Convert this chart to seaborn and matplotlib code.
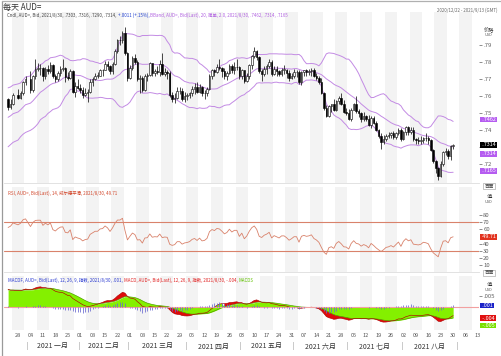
import numpy as np
import pandas as pd
import matplotlib
matplotlib.use("Agg")
import matplotlib.pyplot as plt
import seaborn as sns
from matplotlib.transforms import blended_transform_factory as btf
from matplotlib.lines import Line2D

sns.set_theme(style="white")
plt.rcParams['font.family'] = ['Noto Sans CJK SC', 'DejaVu Sans']
plt.rcParams['axes.unicode_minus'] = False

# ---------------- data (AUD= daily, prices in 1/10000 USD) ----------------
# closes before the visible window, only used to seed BBand / RSI / MACD
warmup_closes = [
    7165, 7165,
    7185, 7115, 7140, 7170, 7235,
    7215, 7165, 7160, 7080, 7085,
    7065, 7065, 7130, 7115, 7140,
    7125, 7135, 7075, 7030, 7030,
    7075, 7125, 7145, 7260, 7285,
    7265, 7290, 7260, 7255, 7285,
    7310, 7290, 7290, 7290, 7300,
    7285, 7355, 7370, 7365, 7385,
    7365, 7375, 7405, 7445, 7440,
    7420, 7430, 7430, 7525, 7535,
    7515, 7545, 7570, 7630, 7625,
    7580,
]
closes = [
    7535, 7555, 7605,
    7590, 7615, 7680, 7700,
    7635, 7715, 7760, 7765, 7765,
    7720, 7760, 7745, 7780, 7715,
    7700, 7735, 7760, 7765, 7710,
    7705, 7745, 7625, 7660, 7645,
    7635, 7605, 7620, 7625, 7680,
    7700, 7720, 7720, 7750, 7755,
    7790, 7775, 7745, 7790, 7865,
    7930, 7930, 7970, 7850, 7705,
    7765, 7825, 7800, 7700, 7705,
    7635, 7720, 7725, 7795, 7735,
    7745, 7740, 7790, 7730, 7740,
    7735, 7605, 7580, 7590, 7630,
    7630, 7585, 7600, 7605, 7615,
    7640, 7650, 7625, 7650, 7615,
    7620, 7640, 7720, 7750, 7740,
    7770, 7765, 7745, 7720, 7735,
    7775, 7750, 7770, 7770, 7715,
    7750, 7690, 7720, 7780, 7835,
    7865, 7830, 7745, 7730, 7760,
    7775, 7800, 7730, 7760, 7745,
    7730, 7755, 7755, 7735, 7705,
    7720, 7740, 7740, 7680, 7740,
    7750, 7740, 7745, 7755, 7720,
    7705, 7680, 7615, 7530, 7480,
    7540, 7550, 7520, 7570, 7590,
    7555, 7505, 7500, 7465, 7520,
    7550, 7510, 7500, 7465, 7480,
    7465, 7430, 7470, 7440, 7400,
    7365, 7330, 7345, 7365, 7370,
    7380, 7360, 7380, 7400, 7345,
    7390, 7415, 7390, 7400, 7345,
    7340, 7335, 7340, 7355, 7350,
    7340, 7280, 7215, 7175, 7130,
    7200, 7270, 7275, 7245, 7303,
    7314,
]
highs = [
    7590, 7580, 7620,
    7640, 7630, 7690, 7715,
    7745, 7725, 7820, 7795, 7790,
    7770, 7770, 7780, 7800, 7790,
    7730, 7745, 7775, 7820, 7770,
    7740, 7760, 7750, 7680, 7700,
    7670, 7655, 7645, 7640, 7700,
    7710, 7735, 7740, 7760, 7760,
    7805, 7805, 7785, 7800, 7875,
    7935, 7950, 7985, 8007, 7860,
    7785, 7835, 7845, 7810, 7725,
    7715, 7730, 7735, 7800, 7795,
    7760, 7775, 7810, 7850, 7765,
    7755, 7745, 7625, 7620, 7650,
    7650, 7645, 7625, 7620, 7625,
    7660, 7675, 7680, 7670, 7660,
    7635, 7655, 7730, 7760, 7760,
    7790, 7815, 7770, 7765, 7745,
    7790, 7790, 7800, 7815, 7775,
    7760, 7755, 7735, 7790, 7840,
    7890, 7870, 7835, 7760, 7775,
    7790, 7815, 7810, 7775, 7775,
    7755, 7765, 7785, 7760, 7750,
    7735, 7760, 7755, 7750, 7745,
    7755, 7760, 7760, 7765, 7765,
    7735, 7720, 7705, 7625, 7545,
    7545, 7555, 7580, 7575, 7600,
    7615, 7575, 7530, 7525, 7530,
    7560, 7600, 7525, 7505, 7505,
    7490, 7490, 7480, 7480, 7450,
    7405, 7380, 7370, 7375, 7390,
    7390, 7395, 7390, 7410, 7410,
    7395, 7425, 7425, 7420, 7420,
    7355, 7360, 7365, 7360, 7380,
    7365, 7345, 7290, 7225, 7180,
    7215, 7275, 7295, 7290, 7310,
    7316,
]
lows = [
    7520, 7525, 7545,
    7580, 7580, 7605, 7665,
    7620, 7625, 7700, 7745, 7725,
    7690, 7700, 7730, 7735, 7705,
    7680, 7690, 7715, 7745, 7685,
    7695, 7700, 7620, 7595, 7640,
    7615, 7590, 7600, 7565, 7615,
    7660, 7695, 7705, 7715, 7720,
    7750, 7755, 7730, 7730, 7785,
    7855, 7900, 7910, 7840, 7690,
    7700, 7750, 7790, 7690, 7620,
    7625, 7630, 7690, 7720, 7715,
    7715, 7730, 7720, 7725, 7720,
    7700, 7595, 7565, 7560, 7585,
    7610, 7570, 7565, 7575, 7590,
    7600, 7610, 7615, 7620, 7600,
    7585, 7600, 7635, 7700, 7715,
    7735, 7750, 7710, 7700, 7695,
    7730, 7735, 7730, 7750, 7700,
    7700, 7675, 7685, 7700, 7760,
    7825, 7810, 7735, 7690, 7720,
    7730, 7765, 7720, 7725, 7715,
    7715, 7720, 7730, 7705, 7690,
    7700, 7705, 7710, 7670, 7665,
    7720, 7715, 7725, 7715, 7710,
    7695, 7670, 7610, 7520, 7475,
    7475, 7505, 7510, 7510, 7555,
    7545, 7500, 7490, 7460, 7450,
    7515, 7500, 7475, 7445, 7455,
    7450, 7425, 7410, 7435, 7395,
    7350, 7290, 7315, 7335, 7350,
    7355, 7345, 7345, 7370, 7335,
    7340, 7370, 7370, 7375, 7335,
    7315, 7320, 7315, 7325, 7335,
    7315, 7275, 7205, 7145, 7106,
    7125, 7190, 7255, 7230, 7225,
    7290,
]
price_ticks = [0.72, 0.73, 0.74, 0.75, 0.76, 0.77, 0.78, 0.79]
# .73 sits under the last-price box in the reference, so its label is blank
price_tick_labels = ['.72', '', '.74', '.75', '.76', '.77', '.78', '.79']
rsi_ticks = [10, 20, 30, 40, 60, 70, 80]
month_labels = ['2021 一月', '2021 二月', '2021 三月', '2021 四月',
                '2021 五月', '2021 六月', '2021 七月', '2021 八月']
bb_last = [0.7462, 0.7314, 0.7165]
last_price = 0.7314
rsi_last = 49.71
macd_last = {'MACDF': '.001', 'MACD': '-.004', 'MACDS': '-.005'}

# ---------------- derived series ----------------
origin = np.datetime64('2020-12-22')
dates = pd.bdate_range('2020-12-22', '2021-08-30')
dates = dates[~dates.isin(pd.to_datetime(['2020-12-25', '2021-01-01']))]
pos = np.busday_count(origin, dates.values.astype('datetime64[D]')).astype(float)

allc = pd.Series(warmup_closes + closes, dtype=float) / 10000
n = len(closes)
c = np.array(closes) / 10000
o = np.r_[warmup_closes[-1], closes[:-1]] / 10000
h = np.array(highs) / 10000
l = np.array(lows) / 10000

mid = allc.rolling(20).mean()
sd = allc.rolling(20).std(ddof=0)
upper = (mid + 2 * sd).values[-n:]
lower = (mid - 2 * sd).values[-n:]
mid = mid.values[-n:]

d = allc.diff()
ag = d.clip(lower=0).ewm(alpha=1 / 14, adjust=False).mean()
al = (-d.clip(upper=0)).ewm(alpha=1 / 14, adjust=False).mean()
rsi = (100 - 100 / (1 + ag / al)).values[-n:]

ema12 = allc.ewm(span=12, adjust=False).mean()
ema26 = allc.ewm(span=26, adjust=False).mean()
macd_s = ema12 - ema26
sig_s = macd_s.ewm(span=9, adjust=False).mean()
macd = macd_s.values[-n:]
sig = sig_s.values[-n:]
hist = macd - sig

# ---------------- figure ----------------
W, H = 502, 356
fig = plt.figure(figsize=(W / 100, H / 100), dpi=100)
fig.patch.set_facecolor('white')


def rect(left, top, right, bottom):
    return [left / W, 1 - bottom / H, (right - left) / W, (bottom - top) / H]


ax_p = fig.add_axes(rect(4, 12, 479, 183))
ax_r = fig.add_axes(rect(4, 187, 479, 272), sharex=ax_p)
ax_m = fig.add_axes(rect(4, 276, 479, 330), sharex=ax_p)

mondays = pd.date_range('2020-12-28', '2021-09-13', freq='W-MON')
mpos = np.busday_count(origin, mondays.values.astype('datetime64[D]')).astype(float)

for ax in (ax_p, ax_r, ax_m):
    ax.set_facecolor('white')
    for s in ax.spines.values():
        s.set_visible(False)
    for k, p in enumerate(mpos):
        if k % 2 == 0:
            ax.axvspan(p - 2.5, p + 2.5, color='#f3f3f3', lw=0, zorder=0)
    ax.yaxis.tick_right()
    ax.tick_params(axis='y', labelsize=4.3, length=2, width=0.5, pad=1,
                   colors='#606060', right=True, left=False)
    ax.grid(False)
ax_p.set_xlim(-1.65, 189.4)

for ax in (ax_p, ax_r):
    ax.tick_params(axis='x', bottom=False, labelbottom=False)
    ax.spines['bottom'].set_visible(True)
    ax.spines['bottom'].set_color('#dddddd')
    ax.spines['bottom'].set_linewidth(0.6)

# ---- price panel ----
bb_col = '#c38be4'
for series in (upper, mid, lower):
    sns.lineplot(x=pos, y=series, ax=ax_p, color=bb_col, lw=0.7, legend=False,
                 zorder=2)
up = c >= o
ax_p.vlines(pos, l, h, color='black', lw=0.5, zorder=3)
body_bot = np.minimum(o, c)
body_h = np.maximum(np.abs(c - o), 0.00015)
ax_p.bar(pos[up], body_h[up], bottom=body_bot[up], width=0.62, color='white',
         edgecolor='black', linewidth=0.4, zorder=4)
ax_p.bar(pos[~up], body_h[~up], bottom=body_bot[~up], width=0.62,
         color='black', edgecolor='black', linewidth=0.4, zorder=4)
ax_p.set_ylim(0.70882, 0.80941)
ax_p.set_yticks(price_ticks)
ax_p.set_yticklabels(price_tick_labels)
ax_p.set_ylabel('')


def rbox(ax, y, s, fc, tc='white'):
    ax.text(1.004, y, ' ' + s + ' ', transform=btf(ax.transAxes, ax.transData),
            fontsize=3.9, color=tc, va='center', ha='left', clip_on=False,
            zorder=10, bbox=dict(boxstyle='square,pad=0.08', fc=fc, ec='none'))


rbox(ax_p, bb_last[0], '.7462', '#b55cf0')
rbox(ax_p, last_price, '.7314', 'black')
rbox(ax_p, bb_last[1] - 0.0054, '.7314', '#b55cf0')
rbox(ax_p, bb_last[2] - 0.0004, '.7165', '#b55cf0')


def chain(ax, x, y, parts, fs=3.2):
    t = ax.text(x, y, parts[0][0], color=parts[0][1], fontsize=fs,
                transform=ax.transAxes, va='center', ha='left', zorder=12)
    for s, col in parts[1:]:
        t = ax.annotate(s, xy=(1, 0), xycoords=t, va='bottom', ha='left',
                        color=col, fontsize=fs, zorder=12)


chain(ax_p, 0.007, 0.982, [
    ('Cndl, AUD=, Bid, 2021/8/30, .7303, .7316, .7290, .7314, ', '#444444'),
    ('+.0011 (+.15%), ', '#2040d0'),
    ('BBand, AUD=, Bid(Last), 20, 简单, 2.0, 2021/8/30, .7462, .7314, .7165', '#b060e0'),
])

# ---- RSI panel ----
rsi_col = '#d9826b'
ax_r.axhline(70, color=rsi_col, lw=0.8, zorder=2)
ax_r.axhline(30, color=rsi_col, lw=0.8, zorder=2)
sns.lineplot(x=pos, y=rsi, ax=ax_r, color=rsi_col, lw=0.6, legend=False, zorder=3)
ax_r.set_ylim(0.56, 118.6)
ax_r.set_yticks(rsi_ticks)
ax_r.set_yticklabels([str(v) for v in rsi_ticks])
ax_r.set_ylabel('')
rbox(ax_r, rsi_last, '49.71', '#e2321e')
chain(ax_r, 0.008, 0.929, [
    ('RSI, AUD=, Bid(Last), 14, 威尔德平滑, 2021/8/30, 49.71', '#d2462a'),
])

# ---- MACD panel ----
green = '#84f000'
red = '#e00a0a'
ax_m.fill_between(pos, 0, sig, color=green, lw=0, zorder=1)
beyond = (macd - sig) * np.sign(sig) > 0
ax_m.fill_between(pos, sig, macd, where=beyond, interpolate=True, color=red,
                  lw=0, zorder=2)
ax_m.fill_between(pos, sig, macd, where=~beyond, interpolate=True, color=green,
                  lw=0, zorder=1)
sns.lineplot(x=pos, y=sig, ax=ax_m, color='#4f9a00', lw=0.45, legend=False, zorder=3)
sns.lineplot(x=pos, y=macd, ax=ax_m, color='#b00000', lw=0.45, legend=False, zorder=3)
ax_m.axhline(0, color='#f2a0a0', lw=0.8, zorder=4)
ax_m.vlines(pos, 0, hist, color='#6a6ad0', lw=0.55, zorder=5)
ax_m.set_ylim(-0.01045, 0.01409)
ax_m.set_yticks([0.005])
ax_m.set_yticklabels(['.005'])
ax_m.set_ylabel('')
rbox(ax_m, 0.0007, macd_last['MACDF'], '#1a22c8')
rbox(ax_m, -0.0050, macd_last['MACD'], '#e01010')
rbox(ax_m, -0.0084, macd_last['MACDS'], '#78e000')
chain(ax_m, 0.008, 0.926, [
    ('MACDF, AUD=, Bid(Last), 12, 26, 9, 指数, 2021/8/30, .001, ', '#2a3ad0'),
    ('MACD, AUD=, Bid(Last), 12, 26, 9, 指数, 2021/8/30, -.004, ', '#e02020'),
    ('MACDS', '#60c000'),
])

# x axis: weekly day numbers + month labels
ax_m.set_xticks(mpos)
ax_m.set_xticklabels([dd.strftime('%d') for dd in mondays])
ax_m.tick_params(axis='x', labelsize=4, length=0, pad=2.5, colors='#555555')
tr = btf(ax_m.transData, ax_m.transAxes)
for mi, lab in enumerate(month_labels):
    m_start = np.datetime64(f'2021-{mi + 1:02d}-01')
    m_end = np.datetime64(f'2021-{mi + 2:02d}-01') - np.timedelta64(1, 'D')
    f = np.busday_offset(m_start, 0, roll='forward')
    e = np.busday_offset(m_end, 0, roll='backward')
    pf = np.busday_count(origin, f)
    pe = np.busday_count(origin, e)
    ax_m.text((pf + pe) / 2, -0.30, lab, transform=tr, fontsize=5.0,
              ha='center', va='center', color='#333333', clip_on=False)
for mi in range(9):
    m_start = np.datetime64(f'2021-{mi + 1:02d}-01')
    f = np.busday_offset(m_start, 0, roll='forward')
    pf = np.busday_count(origin, f)
    ax_m.text(pf - 0.5, -0.30, '|', transform=tr, fontsize=4.8, ha='center',
              va='center', color='#777777', clip_on=False)

# header / decorations
fig.text(3 / W, 1 - 7 / H, '每天 AUD=', fontsize=5.8, va='center', ha='left',
         color='#333333')
fig.text(498 / W, 1 - 10 / H, '2020/12/22 - 2021/9/13 (GMT)', fontsize=3.2,
         va='center', ha='right', color='#666666')
for ytop, t1 in ((30, '价格'), (197, '值'), (285, '值')):
    fig.text(489 / W, 1 - ytop / H, t1, fontsize=3.8, ha='center', va='center',
             color='#333333')
    fig.text(489 / W, 1 - (ytop + 5) / H, 'USD', fontsize=2.8, ha='center',
             va='center', color='#555555')
for yb in (186, 273):
    fig.text(489 / W, 1 - yb / H, '百面', fontsize=3.4, ha='center', va='center',
             color='#444444',
             bbox=dict(boxstyle='square,pad=0.2', fc='white', ec='#999999', lw=0.4))
fig.add_artist(Line2D([2 / W, 2 / W], [0, 1 - 1 / H], transform=fig.transFigure,
                      color='#9a9a9a', lw=0.9))
fig.add_artist(Line2D([2 / W, 1], [1 - 1 / H, 1 - 1 / H], transform=fig.transFigure,
                      color='#b0b0b0', lw=0.9))

fig.savefig('out.png', dpi=100, facecolor='white')
